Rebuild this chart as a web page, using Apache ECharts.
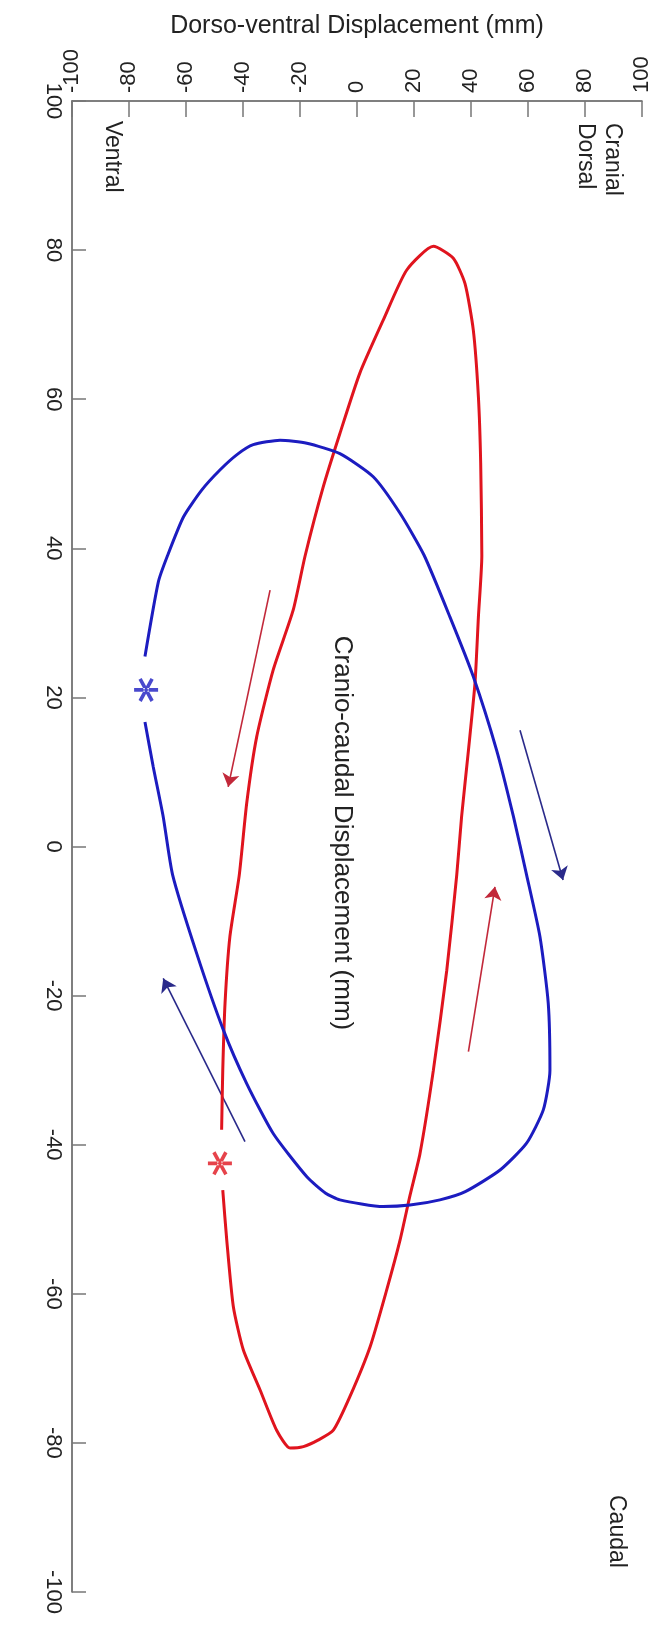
<!DOCTYPE html>
<html>
<head>
<meta charset="utf-8">
<script src="https://cdn.jsdelivr.net/npm/echarts@6/dist/echarts.min.js"></script>
<style>
  html, body { margin: 0; padding: 0; background: #fff; }
  #chart { width: 662px; height: 1627px; }
</style>
</head>
<body>
<div id="chart"></div>
<script>
// [dorso-ventral, cranio-caudal] in mm
var redCurve = [
  [-47.1, -46.1], [-45.7, -52.8], [-43.4, -61.7], [-39.9, -67.5], [-34.0, -72.9],
  [-28.2, -78.3], [-23.5, -80.7], [-18.8, -80.5], [-13.5, -79.6], [-8.3, -78.3],
  [-2.5, -73.8], [4.6, -67.1], [10.4, -59.5], [15.1, -52.8], [18.6, -46.8],
  [22.1, -41.2], [26.8, -30.0], [31.5, -16.6], [35.0, -3.8], [36.7, 4.0],
  [39.1, 12.9], [41.4, 21.9], [42.6, 30.8], [43.8, 39.0], [43.4, 51.4],
  [42.6, 60.3], [40.8, 69.3], [37.9, 75.5], [33.8, 78.9], [26.8, 80.5],
  [17.4, 77.3], [9.2, 70.6], [1.0, 63.5], [-6.0, 55.4], [-11.8, 48.3],
  [-18.2, 39.0], [-22.4, 31.7], [-29.4, 23.7], [-35.2, 14.7], [-38.7, 5.8],
  [-41.3, -3.8], [-44.6, -12.1], [-46.3, -21.0], [-47.1, -30.0], [-47.5, -38.0]
];
var blueCurve = [
  [-74.4, 25.5], [-69.7, 35.5], [-66.5, 39.0], [-60.9, 44.2], [-54.5, 47.8],
  [-48.1, 50.5], [-42.0, 52.6], [-36.4, 53.9], [-27.0, 54.5], [-17.6, 54.1],
  [-6.0, 52.7], [5.7, 49.6], [15.1, 44.7], [23.5, 39.1], [32.6, 30.8],
  [40.8, 22.8], [49.0, 12.9], [54.9, 4.0], [59.5, -3.8], [64.2, -12.1],
  [67.1, -21.0], [67.7, -30.0], [65.4, -35.3], [59.5, -39.8], [50.2, -43.4],
  [38.0, -46.3], [29.1, -47.4], [18.6, -48.1], [9.2, -48.3], [-6.0, -47.4],
  [-11.0, -46.5], [-17.6, -44.3], [-29.4, -38.5], [-38.7, -31.8], [-46.9, -24.6],
  [-56.2, -14.4], [-64.7, -3.8], [-68.0, 4.0], [-71.5, 10.7], [-74.4, 16.7]
];
// direction arrows: [start, tip]
var redArrows = [
  [[-30.5, 34.4], [-45.2, 8.0]],
  [[39.1, -27.5], [48.4, -5.4]]
];
var blueArrows = [
  [[57.2, 15.6], [72.3, -4.5]],
  [[-39.3, -39.6], [-68.0, -17.7]]
];
var redStart = [[-48.1, -42.5]];
var blueStart = [[-74.0, 21.0]];
var ticks = [-100, -80, -60, -40, -20, 0, 20, 40, 60, 80, 100];

var font = 'Liberation Sans, Arial, sans-serif';
var asterisk = 'path://M0,8.5L20,8.5L20,11.5L0,11.5Z' +
  'M13.7,19.41L16.3,17.91L6.3,0.59L3.7,2.09Z' +
  'M3.7,17.91L6.3,19.41L16.3,2.09L13.7,0.59Z';

var axisCommon = {
  type: 'value',
  min: ticks[0],
  max: ticks[ticks.length - 1],
  interval: 20,
  splitLine: { show: false },
  axisLine: { show: true, onZero: false, lineStyle: { color: '#555', width: 1.5 } },
  axisTick: { show: true, inside: true, lineStyle: { color: '#777', width: 1.5 } },
  axisLabel: {
    rotate: -90, margin: 8, fontSize: 22, color: '#222', fontFamily: font,
    showMinLabel: true, showMaxLabel: true
  }
};

function vtext(str, x, y, size, align) {
  return {
    type: 'text', x: x, y: y, rotation: -Math.PI / 2,
    style: { text: str, fontSize: size, fontFamily: font, fill: '#222', align: align, verticalAlign: 'middle' }
  };
}

var Chart = echarts.init(document.getElementById('chart'))
var option = {
  backgroundColor: '#fff',
  animation: false,
  grid: { left: 72, top: 101, right: 20, bottom: 35 },
  xAxis: echarts.util.merge({
    position: 'top',
    name: 'Dorso-ventral Displacement (mm)',
    nameLocation: 'middle',
    nameGap: 62,
    nameTextStyle: { fontSize: 25, color: '#222', fontFamily: font },
    axisTick: { length: 16 }
  }, axisCommon, false),
  yAxis: echarts.util.merge({
    axisTick: { length: 14 }
  }, axisCommon, false),
  series: [
    {
      type: 'line', data: redCurve, showSymbol: false, symbol: 'none', smooth: 0.2,
      lineStyle: { color: '#e0141e', width: 3 }, z: 3
    },
    {
      type: 'line', data: blueCurve, showSymbol: false, symbol: 'none', smooth: 0.2,
      lineStyle: { color: '#1c1cc0', width: 3 }, z: 3
    },
    {
      type: 'lines', coordinateSystem: 'cartesian2d',
      symbol: ['none', 'arrow'], symbolSize: 13,
      lineStyle: { color: '#c2283a', width: 1.6, opacity: 1 },
      data: redArrows.map(function (a) { return { coords: a }; })
    },
    {
      type: 'lines', coordinateSystem: 'cartesian2d',
      symbol: ['none', 'arrow'], symbolSize: 13,
      lineStyle: { color: '#2a2a8a', width: 1.6, opacity: 1 },
      data: blueArrows.map(function (a) { return { coords: a }; })
    },
    {
      type: 'scatter', data: redStart, symbol: asterisk, symbolSize: 24,
      itemStyle: { color: '#e0141e' }, z: 4
    },
    {
      type: 'scatter', data: blueStart, symbol: asterisk, symbolSize: 24,
      itemStyle: { color: '#1c1cc0' }, z: 4
    }
  ],
  graphic: [
    vtext('Cranio-caudal Displacement (mm)', 342, 833, 26, 'center'),
    vtext('Cranial', 612, 123, 23, 'left'),
    vtext('Dorsal', 585, 123, 23, 'left'),
    vtext('Ventral', 112, 121, 23, 'left'),
    vtext('Caudal', 616, 1495, 23, 'left')
  ]
}
Chart.setOption(option)
</script>
</body>
</html>
